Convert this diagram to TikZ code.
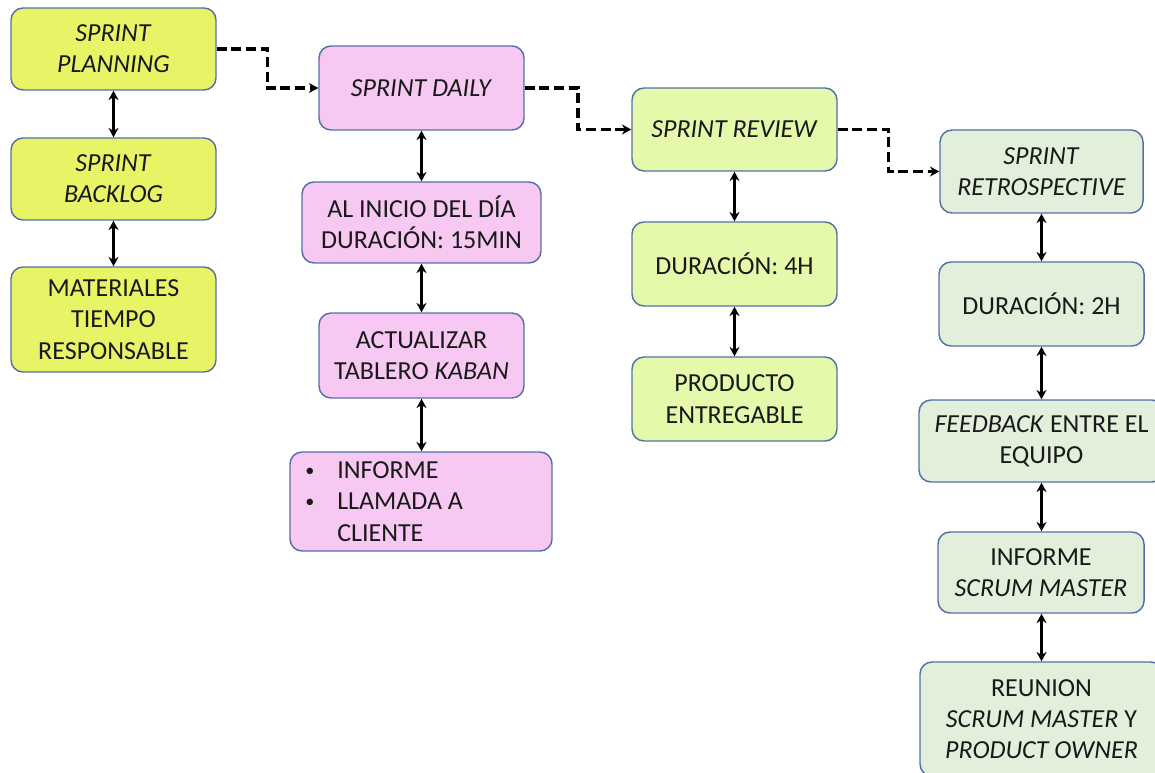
\documentclass[tikz,border=0pt]{standalone}
\usepackage{fontspec}
\setmainfont{Carlito}
\usetikzlibrary{arrows.meta,calc}

\definecolor{edgeblue}{RGB}{84,112,168}
\definecolor{planyellow}{RGB}{232,244,102}
\definecolor{dailypink}{RGB}{246,200,242}
\definecolor{reviewgreen}{RGB}{228,249,170}
\definecolor{retrogreen}{RGB}{226,239,218}
\definecolor{inktext}{RGB}{25,25,25}

\tikzset{
  card/.style={draw=edgeblue, line width=1.1pt, rounded corners=9pt,
    inner sep=0pt, align=center, text=inktext,
    font=\fontsize{19.5}{23.5}\selectfont},
  cardP/.style={card, fill=planyellow},
  cardD/.style={card, fill=dailypink},
  cardR/.style={card, fill=reviewgreen},
  cardT/.style={card, fill=retrogreen},
  link/.style={line width=2.3pt, {Stealth[length=7pt,width=7.5pt]}-{Stealth[length=7pt,width=7.5pt]}},
  flow/.style={line width=2.3pt, dash pattern=on 7.5pt off 3.5pt, -{Stealth[length=7pt,width=7.5pt]}},
}

\newcommand{\boxat}[6]{% style, name, cx, cy, w, h, text
  \node[#1, minimum width=#5*0.75pt, minimum height=#6*0.75pt] (#2) at (#3,#4)}
\newcommand{\listdot}{\makebox[24pt][l]{\raisebox{1.5pt}{\scalebox{0.7}{\textbullet}}}}

\begin{document}
\begin{tikzpicture}[x=0.75pt, y=-0.75pt]
\useasboundingbox (0,0) rectangle (1155,773);
\clip (0,0) rectangle (1155,773);

% Sprint planning column
\boxat{cardP}{plan}{113.5}{49}{205}{82} {\textit{SPRINT}\\\textit{PLANNING}};
\boxat{cardP}{back}{113.5}{179}{205}{82} {\textit{SPRINT}\\\textit{BACKLOG}};
\boxat{cardP}{mat}{113.5}{319.5}{205}{105} {MATERIALES\\TIEMPO\\RESPONSABLE};

% Sprint daily column
\boxat{cardD}{daily}{421.5}{88}{205}{84} {\textit{SPRINT DAILY}};
\boxat{cardD}{inicio}{421.5}{222.5}{239}{81} {AL INICIO DEL DÍA\\DURACIÓN: 15MIN};
\boxat{cardD}{actual}{421.5}{355.5}{205}{85} {ACTUALIZAR\\TABLERO \textit{KABAN}};
\boxat{cardD}{inf}{421}{501.5}{262}{99} {};
\node[anchor=west, align=left, inner sep=0pt, text=inktext,
      font=\fontsize{19.5}{23.5}\selectfont] (inftext) at (305,501.5)
  {\listdot INFORME\\
   \listdot LLAMADA A\\
   \makebox[24pt][l]{}CLIENTE};

% Sprint review column
\boxat{cardR}{review}{734.5}{129.5}{205}{83} {\textit{SPRINT REVIEW}};
\boxat{cardR}{dur4}{734.5}{264}{205}{84} {DURACIÓN: 4H};
\boxat{cardR}{prod}{734.5}{399}{205}{84} {PRODUCTO\\ENTREGABLE};

% Sprint retrospective column
\boxat{cardT}{retro}{1041.5}{171.5}{203}{83} {\textit{SPRINT}\\\textit{RETROSPECTIVE}};
\boxat{cardT}{dur2}{1041.5}{304}{205}{84} {DURACIÓN: 2H};
\boxat{cardT}{feed}{1041.5}{441}{245}{82} {\textit{FEEDBACK} ENTRE EL\\EQUIPO};
\boxat{cardT}{infsm}{1041}{572.5}{206}{81} {INFORME\\\textit{SCRUM MASTER}};
\boxat{cardT}{reun}{1041.5}{719}{243}{114} {REUNION\\\textit{SCRUM MASTER} Y\\\textit{PRODUCT OWNER}};

% Two-way links inside each column
\draw[link] (plan) -- (back);
\draw[link] (back) -- (mat);
\draw[link] (daily.south -| inicio.south) -- (inicio);
\draw[link] (inicio) -- (actual);
\draw[link] (actual) -- (actual |- inf.north);
\draw[link] (review) -- (dur4);
\draw[link] (dur4) -- (prod);
\draw[link] (retro) -- (dur2);
\draw[link] (dur2) -- (feed);
\draw[link] (feed) -- (infsm.north -| feed.south);
\draw[link] (infsm.south -| feed.south) -- (reun);

% Sequence between the sprint events
\draw[flow] (plan.east) -| ($(plan.east)!.5!(daily.west)$) |- (daily.west);
\draw[flow] (daily.east) -| ($(daily.east)!.5!(review.west)$) |- (review.west);
\draw[flow] (review.east) -| ($(review.east)!.5!(retro.west)$) |- (retro.west);
\end{tikzpicture}
\end{document}
